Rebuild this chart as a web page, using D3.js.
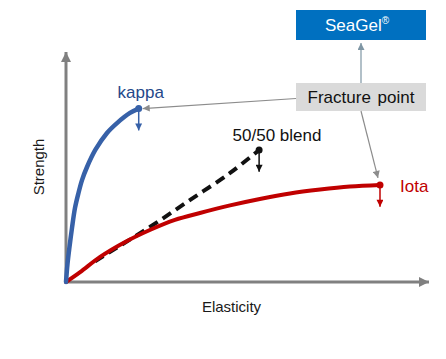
<!DOCTYPE html>
<html>
<head>
<meta charset="utf-8">
<script src="https://cdn.jsdelivr.net/npm/d3@7"></script>
<style>
  html, body { margin: 0; padding: 0; background: #ffffff; }
  svg { display: block; font-family: Arial, "Liberation Sans", sans-serif; }
</style>
</head>
<body>
<svg id="chart" width="446" height="359"></svg>
<script>
// ---- data (unitless elasticity / strength) ----
const kappaX = [0, 0.41, 0.96, 1.65, 2.48, 3.44, 4.41, 5.79, 8.07, 11.29, 14.05, 17.63, 20.03];
const kappaY = [0, 7.8, 15.2, 23.5, 32.2, 38.7, 44.3, 50.0, 57.4, 64.8, 69.1, 73.5, 75.4];

const iotaX = [0, 3.9, 9.4, 16.3, 23.1, 30.0, 36.9, 45.2, 53.4, 61.7, 70.0, 78.2, 86.5];
const iotaY = [0, 4.3, 10.9, 17.4, 22.6, 27.0, 30.0, 33.3, 36.1, 38.5, 40.2, 41.5, 42.2];

const blendX = [8.0, 11.6, 23.1, 34.2, 45.2, 53.2];
const blendY = [9.0, 12.6, 23.9, 35.7, 47.4, 57.4];

const seriesNames = ["kappa", "50/50 blend", "Iota"];
const axisLabels = ["Elasticity", "Strength"];
const brandLabel = "SeaGel";
const calloutLabel = "Fracture point";
const fractureDrop = 9.5; // strength loss drawn after fracture

// ---- setup ----
const svg = d3.select("#chart");
const x = d3.scaleLinear().domain([0, 100]).range([66, 429]);
const y = d3.scaleLinear().domain([0, 100]).range([282, 52]);

const zip = (xs, ys) => xs.map((v, i) => [v, ys[i]]);
const kappa = zip(kappaX, kappaY);
const iota = zip(iotaX, iotaY);
const blend = zip(blendX, blendY);

const defs = svg.append("defs");
function marker(id, color, w, h) {
  defs.append("marker")
    .attr("id", id)
    .attr("viewBox", "0 0 10 10")
    .attr("refX", 10).attr("refY", 5)
    .attr("markerUnits", "userSpaceOnUse")
    .attr("markerWidth", w).attr("markerHeight", h)
    .attr("orient", "auto")
    .append("path").attr("d", "M0,0 L10,5 L0,10 Z").attr("fill", color);
}
marker("axisArrow", "#808080", 11, 10);
marker("grayArrow", "#8c8c8c", 8, 7);
marker("slateArrow", "#7f96a4", 8, 7);
marker("blueArrow", "#3761a8", 8, 7);
marker("blackArrow", "#111111", 8, 7);
marker("redArrow", "#c00000", 8, 7);

// ---- axes (arrows) ----
const axisColor = "#808080";
svg.append("line")
  .attr("x1", x(0)).attr("y1", y(0)).attr("x2", x(100)).attr("y2", y(0))
  .attr("stroke", axisColor).attr("stroke-width", 3)
  .attr("marker-end", "url(#axisArrow)");
svg.append("line")
  .attr("x1", x(0)).attr("y1", y(0) + 1).attr("x2", x(0)).attr("y2", y(100))
  .attr("stroke", axisColor).attr("stroke-width", 3)
  .attr("marker-end", "url(#axisArrow)");

svg.append("text")
  .attr("x", (x(0) + x(100)) / 2 - 16).attr("y", 312)
  .attr("text-anchor", "middle").attr("font-size", 15).attr("fill", "#1a1a1a")
  .text(axisLabels[0]);
svg.append("text")
  .attr("transform", `translate(44, ${y(50)})rotate(-90)`)
  .attr("text-anchor", "middle").attr("font-size", 15).attr("fill", "#1a1a1a")
  .text(axisLabels[1]);

// ---- curves ----
const line = d3.line().x(d => x(d[0])).y(d => y(d[1])).curve(d3.curveCatmullRom.alpha(0.5));

svg.append("path").datum(blend).attr("d", line)
  .attr("fill", "none").attr("stroke", "#111111").attr("stroke-width", 4)
  .attr("stroke-dasharray", "10,6");
svg.append("path").datum(iota).attr("d", line)
  .attr("fill", "none").attr("stroke", "#c00000").attr("stroke-width", 4)
  .attr("stroke-linecap", "round");
svg.append("path").datum(kappa).attr("d", line)
  .attr("fill", "none").attr("stroke", "#3761a8").attr("stroke-width", 4.5)
  .attr("stroke-linecap", "round");

// ---- fracture end points ----
const ends = [
  { p: kappa[kappa.length - 1], c: "#3761a8", m: "blueArrow" },
  { p: blend[blend.length - 1], c: "#111111", m: "blackArrow" },
  { p: iota[iota.length - 1], c: "#c00000", m: "redArrow" }
];
ends.forEach(e => {
  svg.append("line")
    .attr("x1", x(e.p[0])).attr("y1", y(e.p[1]))
    .attr("x2", x(e.p[0])).attr("y2", y(e.p[1] - fractureDrop))
    .attr("stroke", e.c).attr("stroke-width", 1.5)
    .attr("marker-end", `url(#${e.m})`);
  svg.append("circle")
    .attr("cx", x(e.p[0])).attr("cy", y(e.p[1])).attr("r", 3.5).attr("fill", e.c);
});

// ---- series labels ----
svg.append("text").attr("x", x(kappa[kappa.length - 1][0]) + 2).attr("y", 98)
  .attr("text-anchor", "middle").attr("font-size", 17).attr("fill", "#24488a")
  .text(seriesNames[0]);
svg.append("text").attr("x", 277).attr("y", 141)
  .attr("text-anchor", "middle").attr("font-size", 17).attr("fill", "#111111")
  .text(seriesNames[1]);
svg.append("text").attr("x", 400).attr("y", 192)
  .attr("text-anchor", "start").attr("font-size", 17).attr("fill", "#c00000")
  .text(seriesNames[2]);

// ---- callout boxes ----
svg.append("rect").attr("x", 296).attr("y", 10).attr("width", 130).attr("height", 30)
  .attr("fill", "#0070c0");
const brand = svg.append("text").attr("x", 357).attr("y", 31)
  .attr("text-anchor", "middle").attr("font-size", 17).attr("fill", "#ffffff");
brand.append("tspan").text(brandLabel);
brand.append("tspan").attr("font-size", 10).attr("dy", -7).text("®");

svg.append("rect").attr("x", 296).attr("y", 83).attr("width", 130).attr("height", 28)
  .attr("fill", "#dadada");
svg.append("text").attr("x", 361).attr("y", 103)
  .attr("text-anchor", "middle").attr("font-size", 17).attr("fill", "#111111")
  .attr("word-spacing", 2)
  .text(calloutLabel);

// ---- callout arrows ----
svg.append("line").attr("x1", 361).attr("y1", 83).attr("x2", 361).attr("y2", 43)
  .attr("stroke", "#7f96a4").attr("stroke-width", 1.2).attr("marker-end", "url(#slateArrow)");
const kEnd = kappa[kappa.length - 1];
svg.append("line").attr("x1", 296).attr("y1", 98.5)
  .attr("x2", x(kEnd[0]) + 4).attr("y2", y(kEnd[1]))
  .attr("stroke", "#8c8c8c").attr("stroke-width", 1.2).attr("marker-end", "url(#grayArrow)");
const iEnd = iota[iota.length - 1];
svg.append("line").attr("x1", 361).attr("y1", 111)
  .attr("x2", x(iEnd[0]) - 2).attr("y2", y(iEnd[1]) - 7)
  .attr("stroke", "#8c8c8c").attr("stroke-width", 1.2).attr("marker-end", "url(#grayArrow)");
</script>
</body>
</html>
